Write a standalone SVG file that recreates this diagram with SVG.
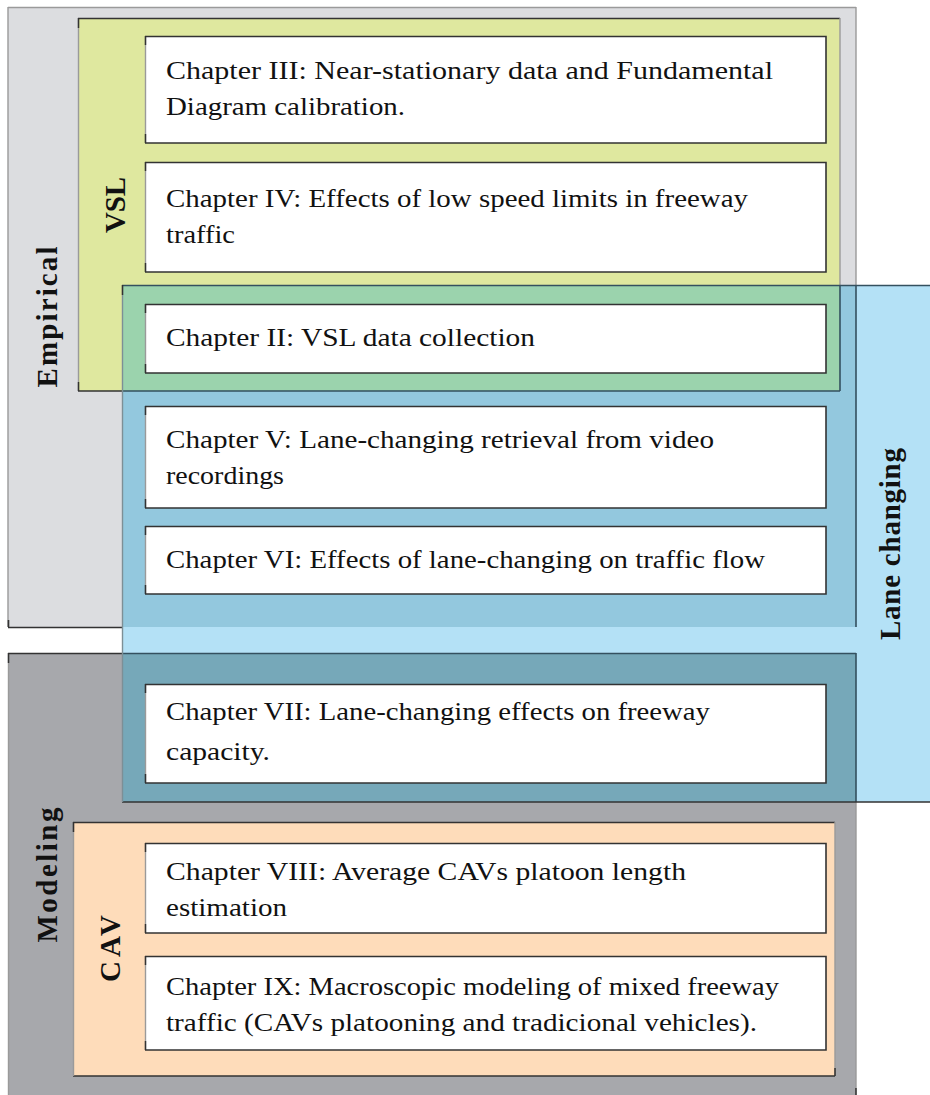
<svg xmlns="http://www.w3.org/2000/svg" width="930" height="1095" viewBox="0 0 930 1095">
<style>
.dk{stroke:#333;stroke-width:1.6;fill:none}
.lt{stroke:#9a9a9a;stroke-width:1.4;fill:none}
.bl{stroke:#34505f;stroke-width:1.6;fill:none}
.ch{fill:#fff}
.t{font-family:"Liberation Serif","Times New Roman",serif;font-size:26px;fill:#111}
.lb{font-family:"Liberation Serif","Times New Roman",serif;font-size:29px;font-weight:bold;fill:#111}
</style>
<rect width="930" height="1095" fill="#fff"/>

<!-- Containers -->
<g id="empirical">
<rect x="8" y="7" width="848" height="620" fill="#dcdde0"/>
<path class="lt" d="M8,7.5H856M8,7V627M856,7V627" stroke="#8c8c8c"/>
<path class="dk" d="M8,627.5H856M8.5,620V627"/>
</g>
<g id="vsl">
<rect x="78" y="18" width="762" height="373" fill="#dfe89f"/>
<path class="dk" d="M78,18.5H840M78.5,18V28M78,391H840M78.5,382V391"/>
<path class="lt" d="M78.5,28V382M840,18V391"/>
</g>
<g id="modeling">
<rect x="8" y="653" width="848" height="445" fill="#a7a8ac"/>
<path class="dk" d="M8,653.5H856M8.5,653V663M856,1088V1095"/>
<path class="lt" d="M8.5,663V1095M856,653V1088"/>
</g>
<g id="cav">
<rect x="73" y="822" width="762" height="254" fill="#fedcba"/>
<path class="dk" d="M73,822.5H835M73.5,822V832M73,1076H835M835,1068V1076"/>
<path class="lt" d="M73.5,832V1076M835,822V1068"/>
</g>
<g id="lane-changing">
<rect x="122" y="285" width="812" height="517" fill="#b4e1f6"/>
<rect x="122" y="285" width="734" height="342" fill="#93c8de"/>
<rect x="122" y="285" width="718" height="106" fill="#9bd3ad"/>
<rect x="122" y="653" width="734" height="149" fill="#76a8b9"/>
<path class="bl" d="M840,285V391M122,391H840M856,285V627M856,653V802M122,653.5H856"/>
<path class="bl" d="M122,285.5H930"/>
<path class="dk" d="M122,802H930M122.5,285V295"/>
<path stroke="#7d8f96" stroke-width="1.4" fill="none" d="M122.5,295V802"/>
</g>

<!-- Chapter nodes -->
<g id="ch3">
<rect class="ch" x="145" y="36" width="681" height="107"/>
<path class="dk" d="M145,36.5H826V143H145M145.5,36V45M145.5,134V143"/>
<path class="lt" d="M145.5,45V134"/>
<text class="t" x="166" y="79" textLength="607" lengthAdjust="spacingAndGlyphs">Chapter III: Near-stationary data and Fundamental</text>
<text class="t" x="166" y="115" textLength="239" lengthAdjust="spacingAndGlyphs">Diagram calibration.</text>
</g>
<g id="ch4">
<rect class="ch" x="145" y="162" width="681" height="110"/>
<path class="dk" d="M145,162.5H826V272H145M145.5,162V171M145.5,263V272"/>
<path class="lt" d="M145.5,171V263"/>
<text class="t" x="166" y="207" textLength="582" lengthAdjust="spacingAndGlyphs">Chapter IV: Effects of low speed limits in freeway</text>
<text class="t" x="166" y="243" textLength="69" lengthAdjust="spacingAndGlyphs">traffic</text>
</g>
<g id="ch2">
<rect class="ch" x="145" y="304" width="681" height="69"/>
<path class="dk" d="M145,304.5H826V373H145M145.5,304V313M145.5,364V373"/>
<path class="lt" d="M145.5,313V364"/>
<text class="t" x="166" y="346" textLength="369" lengthAdjust="spacingAndGlyphs">Chapter II: VSL data collection</text>
</g>
<g id="ch5">
<rect class="ch" x="145" y="406" width="681" height="102"/>
<path class="dk" d="M145,406.5H826V508H145M145.5,406V415M145.5,499V508"/>
<path class="lt" d="M145.5,415V499"/>
<text class="t" x="166" y="448" textLength="548" lengthAdjust="spacingAndGlyphs">Chapter V: Lane-changing retrieval from video</text>
<text class="t" x="166" y="484" textLength="118" lengthAdjust="spacingAndGlyphs">recordings</text>
</g>
<g id="ch6">
<rect class="ch" x="145" y="526" width="681" height="68"/>
<path class="dk" d="M145,526.5H826V594H145M145.5,526V535M145.5,585V594"/>
<path class="lt" d="M145.5,535V585"/>
<text class="t" x="166" y="568" textLength="599" lengthAdjust="spacingAndGlyphs">Chapter VI: Effects of lane-changing on traffic flow</text>
</g>
<g id="ch7">
<rect class="ch" x="145" y="684" width="681" height="99"/>
<path class="dk" d="M145,684.5H826V783H145M145.5,684V693M145.5,774V783"/>
<path class="lt" d="M145.5,693V774"/>
<text class="t" x="166" y="720" textLength="544" lengthAdjust="spacingAndGlyphs">Chapter VII: Lane-changing effects on freeway</text>
<text class="t" x="166" y="760" textLength="104" lengthAdjust="spacingAndGlyphs">capacity.</text>
</g>
<g id="ch8">
<rect class="ch" x="145" y="843" width="681" height="90"/>
<path class="dk" d="M145,843.5H826V933H145M145.5,843V852M145.5,924V933"/>
<path class="lt" d="M145.5,852V924"/>
<text class="t" x="166" y="880" textLength="520" lengthAdjust="spacingAndGlyphs">Chapter VIII: Average CAVs platoon length</text>
<text class="t" x="166" y="916" textLength="121" lengthAdjust="spacingAndGlyphs">estimation</text>
</g>
<g id="ch9">
<rect class="ch" x="145" y="956" width="681" height="94"/>
<path class="dk" d="M145,956.5H826V1050H145M145.5,956V965M145.5,1041V1050"/>
<path class="lt" d="M145.5,965V1041"/>
<text class="t" x="166" y="995" textLength="613" lengthAdjust="spacingAndGlyphs">Chapter IX: Macroscopic modeling of mixed freeway</text>
<text class="t" x="166" y="1031" textLength="591" lengthAdjust="spacingAndGlyphs">traffic (CAVs platooning and tradicional vehicles).</text>
</g>

<!-- Group labels -->
<g id="labels">
<text class="lb" transform="translate(56.5,317) rotate(-90)" text-anchor="middle" textLength="141">Empirical</text>
<text class="lb" transform="translate(125,205) rotate(-90)" text-anchor="middle" textLength="56">VSL</text>
<text class="lb" transform="translate(900,544) rotate(-90)" text-anchor="middle" textLength="192">Lane changing</text>
<text class="lb" transform="translate(56.5,875) rotate(-90)" text-anchor="middle" textLength="135">Modeling</text>
<text class="lb" transform="translate(120,948.5) rotate(-90)" text-anchor="middle" textLength="67">CAV</text>
</g>
<g id="connectors"/>
</svg>
